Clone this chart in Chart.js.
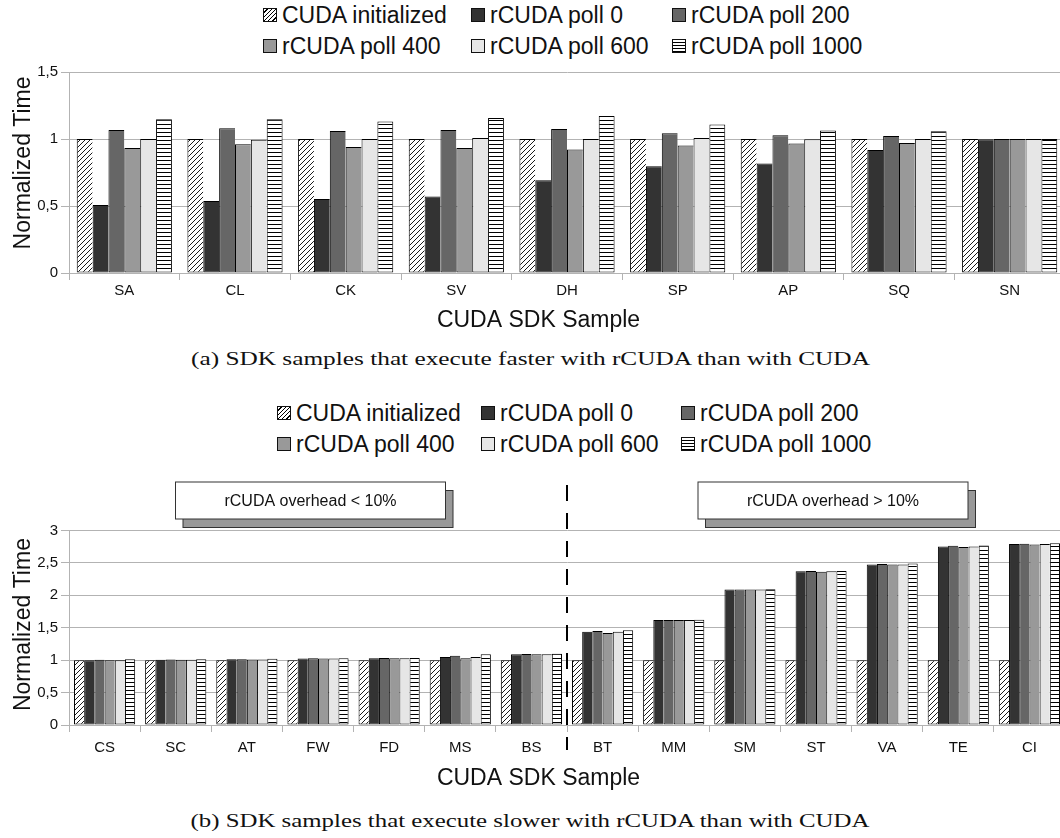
<!DOCTYPE html>
<html>
<head>
<meta charset="utf-8">
<script src="https://cdn.jsdelivr.net/npm/chart.js@4.4.1/dist/chart.umd.min.js"></script>
<style>
  body { margin: 0; width: 1060px; height: 838px; overflow: hidden; background: #fff; position: relative;
         font-family: 'Liberation Sans', Arial, sans-serif; color: #111; }
  .wrap { position: absolute; left: 0; width: 1080px; }
  .item { position: absolute; display: flex; align-items: center; font-size: 23px; line-height: 26px; white-space: nowrap; }
  .sw { width: 14px; height: 14px; border: 1px solid #111; box-sizing: border-box; margin-right: 5px; }
  .cap { position: absolute; left: 0; width: 1060px; text-align: center; }
  .cap span { display: inline-block; font-family: 'Liberation Serif', serif; font-size: 18px; white-space: nowrap; }
</style>
</head>
<body>
<div id="legendTop"></div>
<div class="wrap" style="top:60px"><canvas id="fasterChart" width="1080" height="282"></canvas></div>
<div class="cap" style="top:349px"><span>(a) SDK samples that execute faster with rCUDA than with CUDA</span></div>
<div id="legendBottom"></div>
<div class="wrap" style="top:470px"><canvas id="slowerChart" width="1080" height="330"></canvas></div>
<div class="cap" style="top:811px"><span>(b) SDK samples that execute slower with rCUDA than with CUDA</span></div>

<script>
const seriesNames = ['CUDA initialized', 'rCUDA poll 0', 'rCUDA poll 200', 'rCUDA poll 400', 'rCUDA poll 600', 'rCUDA poll 1000'];

// (a) samples faster with rCUDA
const fasterSamples = ['SA', 'CL', 'CK', 'SV', 'DH', 'SP', 'AP', 'SQ', 'SN'];
const fasterCuda     = [1, 1, 1, 1, 1, 1, 1, 1, 1];
const fasterPoll0    = [0.507, 0.538, 0.553, 0.570, 0.693, 0.796, 0.817, 0.917, 0.998];
const fasterPoll200  = [1.068, 1.080, 1.060, 1.068, 1.075, 1.043, 1.028, 1.023, 1.0];
const fasterPoll400  = [0.932, 0.960, 0.940, 0.932, 0.922, 0.952, 0.967, 0.970, 1.0];
const fasterPoll600  = [1.0, 0.995, 1.0, 1.008, 1.0, 1.008, 0.998, 1.0, 1.0];
const fasterPoll1000 = [1.148, 1.148, 1.131, 1.156, 1.171, 1.108, 1.063, 1.058, 1.0];
const fasterTicks = [0, 0.5, 1, 1.5];

// (b) samples slower with rCUDA
const slowerSamples = ['CS', 'SC', 'AT', 'FW', 'FD', 'MS', 'BS', 'BT', 'MM', 'SM', 'ST', 'VA', 'TE', 'CI'];
const slowerCuda     = [1, 1, 1, 1, 1, 1, 1, 1, 1, 1, 1, 1, 1, 1];
const slowerPoll0    = [1.0, 1.005, 1.015, 1.025, 1.03, 1.05, 1.09, 1.44, 1.62, 2.09, 2.37, 2.475, 2.755, 2.79];
const slowerPoll200  = [1.005, 1.01, 1.015, 1.03, 1.035, 1.07, 1.095, 1.45, 1.62, 2.09, 2.375, 2.485, 2.765, 2.795];
const slowerPoll400  = [1.0, 1.005, 1.01, 1.025, 1.03, 1.03, 1.09, 1.42, 1.62, 2.09, 2.365, 2.475, 2.745, 2.785];
const slowerPoll600  = [1.0, 1.005, 1.01, 1.025, 1.03, 1.05, 1.09, 1.44, 1.62, 2.09, 2.37, 2.475, 2.755, 2.79];
const slowerPoll1000 = [1.015, 1.015, 1.02, 1.03, 1.035, 1.09, 1.10, 1.46, 1.625, 2.093, 2.375, 2.49, 2.77, 2.805];
const slowerTicks = [0, 0.5, 1, 1.5, 2, 2.5, 3];
const overheadNotes = ['rCUDA overhead < 10%', 'rCUDA overhead > 10%'];
const lastLowOverhead = 'BS';

const FONT = "'Liberation Sans', Arial, sans-serif";
const GRID = '#b3b3b3';

function makePattern(kind) {
    const c = document.createElement('canvas');
    const g = c.getContext('2d');
    if (kind === 'hatch') {
        c.width = 5; c.height = 5;
        g.fillStyle = '#fff'; g.fillRect(0, 0, 5, 5);
        g.strokeStyle = '#000'; g.lineWidth = 0.9;
        g.beginPath();
        g.moveTo(-1, 6); g.lineTo(6, -1);
        g.moveTo(-1, 1); g.lineTo(1, -1);
        g.moveTo(4, 6); g.lineTo(6, 4);
        g.stroke();
    } else {
        c.width = 4; c.height = 4;
        g.fillStyle = '#fff'; g.fillRect(0, 0, 4, 4);
        g.fillStyle = '#000'; g.fillRect(0, 0, 4, 1);
    }
    return g.createPattern(c, 'repeat');
}

const fills = [makePattern('hatch'), '#333333', '#666666', '#999999', '#e6e6e6', makePattern('stripes')];
const swatchCss = [
    'repeating-linear-gradient(135deg, #fff 0 2px, #000 2px 3px)',
    '#333333', '#666666', '#999999', '#e6e6e6',
    'repeating-linear-gradient(180deg, #fff 0 2px, #000 2px 3px)'
];

function buildLegend(id, cols, rows) {
    const box = document.getElementById(id);
    seriesNames.forEach((name, i) => {
        const el = document.createElement('div');
        el.className = 'item';
        el.style.left = cols[i % 3] + 'px';
        el.style.top = (rows[Math.floor(i / 3)] - 13) + 'px';
        el.innerHTML = '<div class="sw" style="background:' + swatchCss[i] + '"></div>' + name;
        box.appendChild(el);
    });
}
buildLegend('legendTop', [263, 471, 672], [15, 46]);
buildLegend('legendBottom', [277, 481, 681], [413, 444]);

function makeDatasets(values) {
    return values.map((data, i) => ({
        label: seriesNames[i],
        data: data,
        backgroundColor: fills[i],
        borderColor: '#000',
        borderWidth: { top: 1, left: 1, bottom: 1, right: i === values.length - 1 ? 1 : 0 },
        borderSkipped: false,
        categoryPercentage: 0.86,
        barPercentage: 1
    }));
}

function makeOptions(ticks, yTitle, padTop, xHeight, labelPad) {
    return {
        responsive: false,
        animation: false,
        layout: { padding: { left: 12, right: 15, top: padTop, bottom: 0 } },
        plugins: {
            legend: { display: false },
            tooltip: { enabled: false },
            title: {
                display: true, position: 'bottom', text: 'CUDA SDK Sample', color: '#111',
                font: { family: FONT, size: 23, weight: 'normal', lineHeight: 1 },
                padding: { top: 0, bottom: 10 }
            }
        },
        scales: {
            x: {
                grid: { drawOnChartArea: false, color: GRID, tickLength: 7 },
                border: { color: GRID },
                ticks: { color: '#111', font: { family: FONT, size: 15 }, padding: labelPad, maxRotation: 0, autoSkip: false },
                afterFit: s => { s.height = xHeight; }
            },
            y: {
                min: ticks[0], max: ticks[ticks.length - 1],
                afterBuildTicks: s => { s.ticks = ticks.map(v => ({ value: v })); },
                grid: { color: GRID, tickLength: 8 },
                border: { color: GRID },
                ticks: { color: '#111', font: { family: FONT, size: 15 }, padding: 3,
                         callback: v => String(v).replace('.', ',') },
                title: { display: true, text: yTitle, color: '#111', padding: 0,
                         font: { family: FONT, size: 23, lineHeight: 1 } },
                afterFit: s => { s.width = 57; }
            }
        }
    };
}

new Chart(document.getElementById('fasterChart'), {
    type: 'bar',
    data: {
        labels: fasterSamples,
        datasets: makeDatasets([fasterCuda, fasterPoll0, fasterPoll200, fasterPoll400, fasterPoll600, fasterPoll1000])
    },
    options: makeOptions(fasterTicks, '   Normalized Time', 11, 36, 2)
});

// callout boxes and the dashed split line of chart (b)
const notesPlugin = {
    id: 'notes',
    afterDraw(chart) {
        const { ctx, scales: { x } } = chart;
        ctx.save();
        [175.5, 698].forEach((left, i) => {
            const w = 270, h = 37, top = 12;
            ctx.fillStyle = '#999999';
            ctx.strokeStyle = '#333';
            ctx.lineWidth = 1;
            ctx.fillRect(left + 7.5, top + 8.5, w, h);
            ctx.strokeRect(left + 7.5, top + 8.5, w, h);
            ctx.fillStyle = '#fff';
            ctx.fillRect(left, top, w, h);
            ctx.strokeRect(left, top, w, h);
            ctx.fillStyle = '#111';
            ctx.font = '16px ' + FONT;
            ctx.textAlign = 'center';
            ctx.textBaseline = 'middle';
            ctx.fillText(overheadNotes[i], left + w / 2, top + h / 2 + 1);
        });
        const k = slowerSamples.indexOf(lastLowOverhead);
        const xd = Math.round((x.getPixelForValue(k) + x.getPixelForValue(k + 1)) / 2);
        ctx.strokeStyle = '#000';
        ctx.lineWidth = 2;
        ctx.setLineDash([16, 12]);
        ctx.beginPath();
        ctx.moveTo(xd, 15);
        ctx.lineTo(xd, 280);
        ctx.stroke();
        ctx.restore();
    }
};

new Chart(document.getElementById('slowerChart'), {
    type: 'bar',
    data: {
        labels: slowerSamples,
        datasets: makeDatasets([slowerCuda, slowerPoll0, slowerPoll200, slowerPoll400, slowerPoll600, slowerPoll1000])
    },
    options: makeOptions(slowerTicks, ' Normalized Time', 60.5, 42, 7),
    plugins: [notesPlugin]
});

// stretch captions to the width of the original figure captions
document.querySelectorAll('.cap span').forEach(sp => {
    sp.style.transform = 'scaleX(' + (679 / sp.offsetWidth).toFixed(3) + ')';
});
</script>
</body>
</html>
